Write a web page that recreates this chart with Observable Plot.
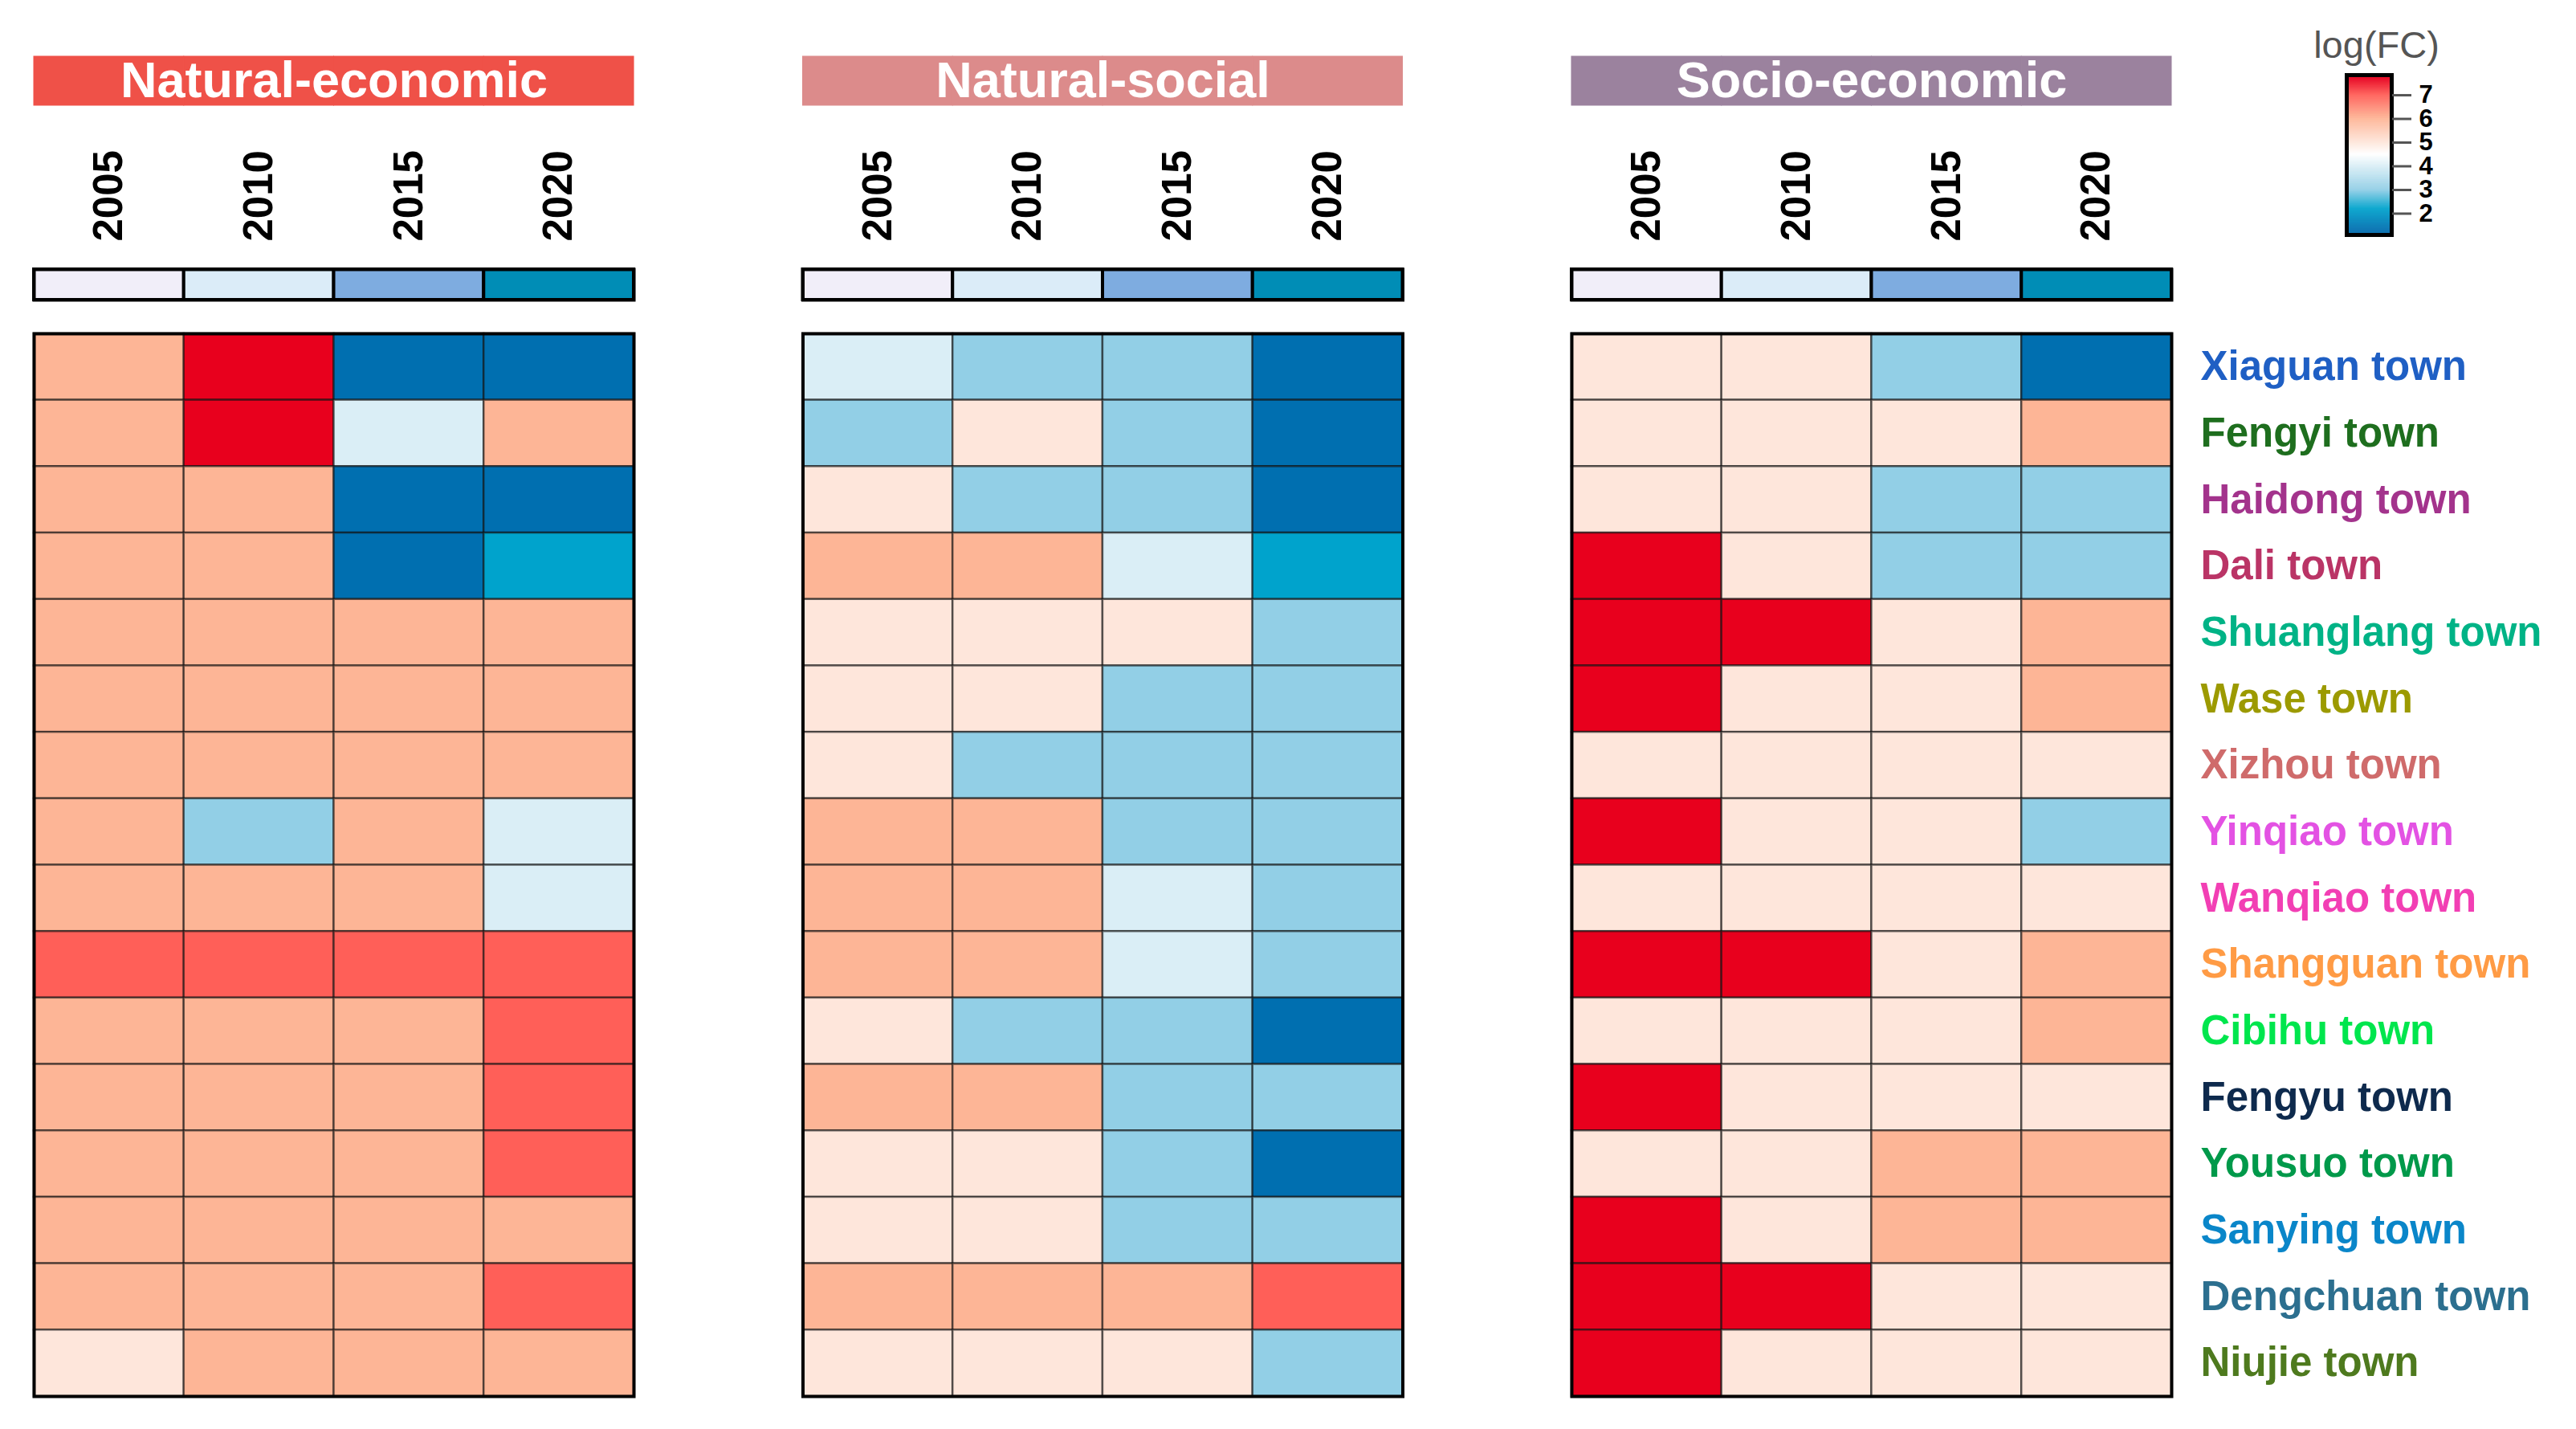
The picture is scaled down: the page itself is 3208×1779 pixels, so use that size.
<!DOCTYPE html>
<html><head><meta charset="utf-8">
<script src="https://cdn.jsdelivr.net/npm/d3@7"></script>
<script src="https://cdn.jsdelivr.net/npm/@observablehq/plot@0.6"></script>
<style>
html,body{margin:0;padding:0;background:#fff;}
#root{position:relative;width:3208px;height:1779px;overflow:hidden;background:#fff;font-family:"Liberation Sans",Arial,sans-serif;}
#root > div{position:absolute;}
#root svg{overflow:visible;background:transparent;max-width:none;}
</style></head><body><div id="root"></div>
<script>
// ---- data ----
const panels = ["Natural-economic", "Natural-social", "Socio-economic"];
const panelColors = ["#EF5148", "#DC8B8B", "#9B829E"];
const years = ["2005", "2010", "2015", "2020"];
const yearColors = ["#F1EEF9", "#DBECF8", "#7EACE0", "#008DB6"];
const towns = ["Xiaguan town", "Fengyi town", "Haidong town", "Dali town", "Shuanglang town", "Wase town",
  "Xizhou town", "Yinqiao town", "Wanqiao town", "Shangguan town", "Cibihu town", "Fengyu town",
  "Yousuo town", "Sanying town", "Dengchuan town", "Niujie town"];
const townColors = ["#1F5FC4", "#1E6E1E", "#A3338C", "#BA3466", "#00B386", "#9C9A00",
  "#CF6B6B", "#E352E3", "#F23FB4", "#FF9B45", "#00E64D", "#0E2A4D",
  "#00994A", "#0A86C9", "#2C6F8F", "#4E7A1E"];
// log(FC) values, columns 2005, 2010, 2015, 2020
const naturalEconomic = [
  [6, 7.7, 1.3, 1.3], [6, 7.7, 4, 6], [6, 6, 1.3, 1.3], [6, 6, 1.3, 2.2],
  [6, 6, 6, 6], [6, 6, 6, 6], [6, 6, 6, 6], [6, 3, 6, 4],
  [6, 6, 6, 4], [7, 7, 7, 7], [6, 6, 6, 7], [6, 6, 6, 7],
  [6, 6, 6, 7], [6, 6, 6, 6], [6, 6, 6, 7], [5, 6, 6, 6]];
const naturalSocial = [
  [4, 3, 3, 1.3], [3, 5, 3, 1.3], [5, 3, 3, 1.3], [6, 6, 4, 2.2],
  [5, 5, 5, 3], [5, 5, 3, 3], [5, 3, 3, 3], [6, 6, 3, 3],
  [6, 6, 4, 3], [6, 6, 4, 3], [5, 3, 3, 1.3], [6, 6, 3, 3],
  [5, 5, 3, 1.3], [5, 5, 3, 3], [6, 6, 6, 7], [5, 5, 5, 3]];
const socioEconomic = [
  [5, 5, 3, 1.3], [5, 5, 5, 6], [5, 5, 3, 3], [7.7, 5, 3, 3],
  [7.7, 7.7, 5, 6], [7.7, 5, 5, 6], [5, 5, 5, 5], [7.7, 5, 5, 3],
  [5, 5, 5, 5], [7.7, 7.7, 5, 6], [5, 5, 5, 6], [7.7, 5, 5, 5],
  [5, 5, 6, 6], [7.7, 5, 6, 6], [7.7, 7.7, 5, 5], [7.7, 5, 5, 5]];
const legendTicks = [2, 3, 4, 5, 6, 7];
const legendTitle = "log(FC)";

// ---- tables ----
const matrices = [naturalEconomic, naturalSocial, socioEconomic];
const cells = [];
matrices.forEach((m, p) => m.forEach((row, r) => row.forEach((v, c) =>
  cells.push({panel: panels[p], town: towns[r], year: years[c], value: v}))));
const headers = panels.map((p, i) => ({panel: p, color: panelColors[i]}));
const headerCells = [];
panels.forEach((p, i) => years.forEach(y => headerCells.push({panel: p, year: y, color: panelColors[i]})));
const annot = [];
panels.forEach(p => years.forEach((y, i) => annot.push({panel: p, year: y, color: yearColors[i]})));
const labels = towns.map((t, i) => ({town: t, color: townColors[i]}));

const colorOpts = {
  type: "linear",
  domain: [1.1, 1.3, 2.2, 3, 4, 4.5, 5, 6, 7, 7.7, 7.85],
  range: ["#0066A8", "#006FB0", "#00A3CC", "#92CFE6", "#DAEEF6", "#FFFFFF", "#FEE6DB", "#FDB596", "#FF5F58", "#E8001D", "#E8001D"]
};
const font = "'Liberation Sans', Arial, sans-serif";
const fxOpts = () => ({domain: panels, paddingInner: 0.2198, paddingOuter: 0, round: false, axis: null});
const xOpts = () => ({domain: years, padding: 0, round: false, axis: null});
const common = {width: 3208, marginLeft: 42, marginRight: 504, style: {fontFamily: font, background: "transparent", overflow: "visible"}};
const root = document.getElementById("root");
function place(svg, left, top) {
  const d = document.createElement("div");
  d.style.left = left + "px"; d.style.top = top + "px";
  d.appendChild(svg); root.appendChild(d);
}

// heatmap
place(Plot.plot({
  ...common, height: 1779, marginTop: 415, marginBottom: 41,
  fx: fxOpts(), x: xOpts(),
  y: {domain: towns, padding: 0, round: false, axis: null},
  color: colorOpts,
  marks: [
    Plot.cell(cells, {fx: "panel", x: "year", y: "town", fill: "value", stroke: "#111", strokeOpacity: 0.6, strokeWidth: 2.5}),
    Plot.frame({stroke: "#000", strokeWidth: 4}),
    Plot.text(labels, {fx: () => panels[2], y: "town", text: "town", fill: "color", frameAnchor: "right", textAnchor: "start", dx: 36, fontSize: 51, fontWeight: "bold"})
  ]
}), 0, 0);

// header bars
place(Plot.plot({
  ...common, height: 61, marginTop: 0, marginBottom: 0,
  fx: fxOpts(), x: xOpts(),
  marks: [
    Plot.cell(headerCells, {fx: "panel", x: "year", fill: "color", stroke: "color", strokeWidth: 1}),
    Plot.text(headers, {fx: "panel", text: "panel", frameAnchor: "middle", fill: "#fff", fontSize: 63, fontWeight: "bold"})
  ]
}), 0, 70);

// year labels + annotation bar
place(Plot.plot({
  ...common, height: 193, marginTop: 155, marginBottom: 0,
  fx: fxOpts(), x: xOpts(),
  marks: [
    Plot.cell(annot, {fx: "panel", x: "year", fill: "color", stroke: "#000", strokeWidth: 4}),
    Plot.frame({stroke: "#000", strokeWidth: 4}),
    Plot.text(annot, {fx: "panel", x: "year", text: "year", frameAnchor: "top", rotate: -90, textAnchor: "start", lineAnchor: "middle", dy: -35, fontSize: 51, fontWeight: "bold", fill: "#000"})
  ]
}), 0, 180);

// legend
const rampStep = 0.01;
const ramp = d3.range(1.1, 7.85, rampStep);
place(Plot.plot({
  width: 220, height: 320, marginLeft: 42, marginRight: 122, marginTop: 93, marginBottom: 28,
  style: {fontFamily: font, background: "transparent", overflow: "visible"},
  y: {domain: [1.1, 7.85], axis: null},
  color: colorOpts,
  marks: [
    Plot.barY(ramp, {y1: d => d, y2: d => Math.min(d + 2 * rampStep, 7.85), fill: d => d + rampStep / 2}),
    Plot.frame({stroke: "#000", strokeWidth: 5}),
    Plot.axisY({anchor: "right", ticks: legendTicks, tickSize: 24, tickPadding: 10, tickFormat: d => String(d),
      stroke: "#555", strokeWidth: 3, fill: "#000", fontSize: 31, fontWeight: "bold", label: null}),
    Plot.text([legendTitle], {text: d => d, frameAnchor: "top", dy: -22, dx: 9, lineAnchor: "bottom", fontSize: 47, fill: "#555"})
  ]
}), 2880, 0);
</script></body></html>
